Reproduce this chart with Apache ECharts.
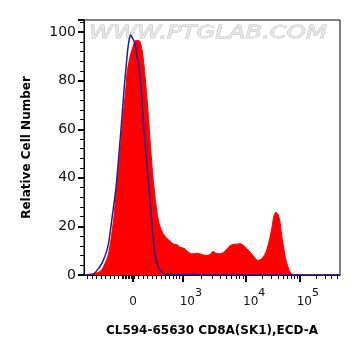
<!DOCTYPE html>
<html>
<head>
<meta charset="utf-8">
<script src="https://cdn.jsdelivr.net/npm/echarts@6/dist/echarts.min.js"></script>
<style>
  html, body { margin: 0; padding: 0; background: #fff; }
  #chart { width: 361px; height: 356px; }
</style>
</head>
<body>
<div id="chart"></div>
<script>
// display channel (0..256 across the plot) -> relative cell number
var redChannel = [0,4,11,16,19,24.5,29.5,32.7,36,38.7,42,43.3,46.7,49,51,54,56,58.7,62,64.7,67,70,73.3,76,79.3,83,86,89,93,96,100,102.7,106,109,113,119,123,126,129,132,136,140,143,146,149,153,156,160,163,166,169,172,174,176,179,182,184,186,188,190,192,193,194.5,196,197.5,199,201,203,206,209,212,256];
var redCount = [0,0.3,0.6,1.5,3,8.7,22.4,36,50,63.7,77.4,84,91,94,96.4,96.6,96,91,77.4,63.7,50,36,25,20,17,15,14,12.8,12.5,11.4,11,10,9,8.7,9,8.3,8,8.5,9.7,9,8.7,9.5,10.8,12,12.6,12.7,12.9,12,10.8,9.5,8,6.5,6,6.2,7.3,9.5,12.2,15.5,19.7,24.5,25.8,25.5,24.5,21.8,17,12.9,8,4.6,1.2,0.2,0,0];

// control (blue outline)
var blueChannel = [0,6,10,12.7,16,19.3,22,24.3,26,27.7,32,35,37.7,40.3,43.3,45,46.7,48.5,51,53,55.3,57,59.3,62,65,67.7,69.5,71,74.3,79.3,86,113,116,256];
var blueCount = [0,0,0.5,1.8,3.5,6,9,12.5,17,22.4,36,50,63.7,77.4,91,96.5,98.8,97.5,95.3,90,84,77.4,63.7,50,36,22.4,14,8.7,3.2,0.7,0.2,0.2,0,0];

// x axis ticks (biexponential scale, in display channels)
var xMajorTicks = [49, 98.3, 161.7, 215.3];
var xMajorLabels = ['0', '3', '4', '5'];   // '0' or exponent of 10
var xMinorTicks = [3.5,8,12.5,17,21.5,26,30,34,38,39.5,41,42.5,44,45.5,47,50.5,54,59,63.5,68,72.5,77,81,85,89,92.5,95.5,
  117.4,128.5,136.5,142.6,147.6,151.9,155.6,158.8,
  177.8,187.3,194,199.2,203.4,207,210.1,212.8,
  232.4,241,247.6,252.8];

function zip(xs, ys) {
  return xs.map(function (x, i) { return [x, ys[i]]; });
}

var chart = echarts.init(document.getElementById('chart'));

var option = {
  backgroundColor: '#fff',
  animation: false,
  grid: {
    left: 84, right: 21, top: 20, bottom: 81,
    show: true, borderColor: '#000', borderWidth: 1
  },
  graphic: [{
    type: 'text',
    x: 208, y: 33, scaleX: 1.35, z: 1,
    style: {
      text: 'WWW.PTGLAB.COM',
      font: 'italic 18px "DejaVu Sans"',
      fill: '#e8e8e8', stroke: '#bdbdbd', lineWidth: 0.8,
      textAlign: 'center', textVerticalAlign: 'middle',
      align: 'center', verticalAlign: 'middle'
    }
  }],
  xAxis: [{
    type: 'value', min: 0, max: 256,
    name: 'CL594-65630 CD8A(SK1),ECD-A',
    nameLocation: 'middle', nameGap: 50,
    nameTextStyle: { fontFamily: 'DejaVu Sans', fontWeight: 'bold', fontSize: 12, color: '#000' },
    axisLine: { lineStyle: { color: '#000', width: 1 } },
    axisTick: { customValues: xMajorTicks, length: 7, lineStyle: { color: '#000', width: 2 } },
    axisLabel: {
      customValues: xMajorTicks, margin: 13,
      formatter: function (v) {
        var i = xMajorTicks.indexOf(v);
        var e = xMajorLabels[i];
        if (e === '0') return '{b|0}';
        return '{sp|}{b|10}{s|' + e + '}';
      },
      rich: {
        b: { fontFamily: 'DejaVu Sans', fontSize: 12, color: '#111', lineHeight: 20, verticalAlign: 'bottom' },
        s: { fontFamily: 'DejaVu Sans', fontSize: 11, color: '#111', lineHeight: 20, verticalAlign: 'top' },
        sp: { width: 17 }
      }
    },
    splitLine: { show: false }
  }, {
    type: 'value', min: 0, max: 256, position: 'bottom',
    axisLine: { show: false },
    axisTick: { customValues: xMinorTicks, length: 4, lineStyle: { color: '#000', width: 1 } },
    axisLabel: { show: false },
    splitLine: { show: false }
  }],
  yAxis: {
    type: 'value', min: 0, max: 105, interval: 20,
    name: 'Relative Cell Number',
    nameLocation: 'middle', nameGap: 51,
    nameTextStyle: { fontFamily: 'DejaVu Sans', fontWeight: 'bold', fontSize: 12, color: '#000' },
    axisLine: { show: true, lineStyle: { color: '#000', width: 1 } },
    axisTick: { show: true, length: 6, lineStyle: { color: '#000', width: 2 } },
    minorTick: { show: true, splitNumber: 5, length: 4, lineStyle: { color: '#000', width: 1 } },
    axisLabel: { fontFamily: 'DejaVu Sans', fontSize: 14, color: '#111', margin: 8, showMaxLabel: false },
    splitLine: { show: false }
  },
  series: [{
    type: 'line',
    data: zip(redChannel, redCount),
    showSymbol: false, smooth: 0.3, z: 2,
    lineStyle: { color: '#ff0000', width: 1 },
    areaStyle: { color: '#ff0000', opacity: 1 }
  }, {
    type: 'line',
    data: zip(blueChannel, blueCount),
    showSymbol: false, smooth: 0.3, z: 3,
    lineStyle: { color: '#1f1f96', width: 1.5 }
  }]
};

chart.setOption(option);
</script>
</body>
</html>
